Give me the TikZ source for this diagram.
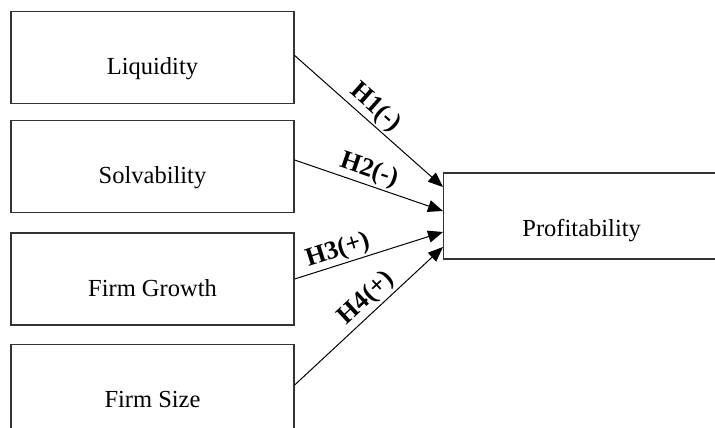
\documentclass[tikz,border=0pt]{standalone}
\usepackage{fontspec}
\setmainfont{Liberation Serif}
\usepackage{tikz}
\usetikzlibrary{arrows.meta,positioning,calc}
\definecolor{ink}{HTML}{000000}
\definecolor{frame}{HTML}{333333}
\tikzset{
  factor/.style={draw=frame,line width=1.3pt,minimum width=283pt,minimum height=92pt,
    inner sep=0pt,text height=39pt,text depth=5pt,
    font=\fontsize{24.5}{28}\selectfont},
  target/.style={factor,minimum width=300pt,minimum height=86pt,text height=45pt},
  arr/.style={-{Triangle[length=15pt,width=12pt]},line width=1pt,draw=ink},
  hyp/.style={sloped,above,inner sep=2pt,font=\fontsize{26}{30}\selectfont\bfseries}
}
\begin{document}
\begin{tikzpicture}[x=1pt,y=-1pt]
    \useasboundingbox (0,0) rectangle (715,428);
    \clip (0,0) rectangle (715,428);
    \node[factor] (liq) at (152.5,57.5) {Liquidity};
    \node[factor] (solv) at (152.5,166.5) {Solvability};
    \node[factor] (growth) at (152.5,279) {Firm Growth};
    \node[factor] (size) at (152.5,390.5) {Firm Size};
    \node[target,anchor=west] (prof) at (443,216) {\hspace*{-24pt}Profitability};
    % hypotheses
    \draw[arr] ([yshift=2pt]liq.east) -- node[hyp,pos=0.48] {H1(-)} ([yshift=29pt]prof.west);
    \draw[arr] ([yshift=6.5pt]solv.east) -- node[hyp,pos=0.47] {H2(-)} ([yshift=5pt]prof.west);
    \draw[arr] (growth.east) -- node[hyp,pos=0.32] {H3(+)} ([yshift=-16pt]prof.west);
    \draw[arr] ([yshift=5.5pt]size.east) -- node[hyp,pos=0.55] {H4(+)} ([yshift=-31pt]prof.west);
\end{tikzpicture}
\end{document}
